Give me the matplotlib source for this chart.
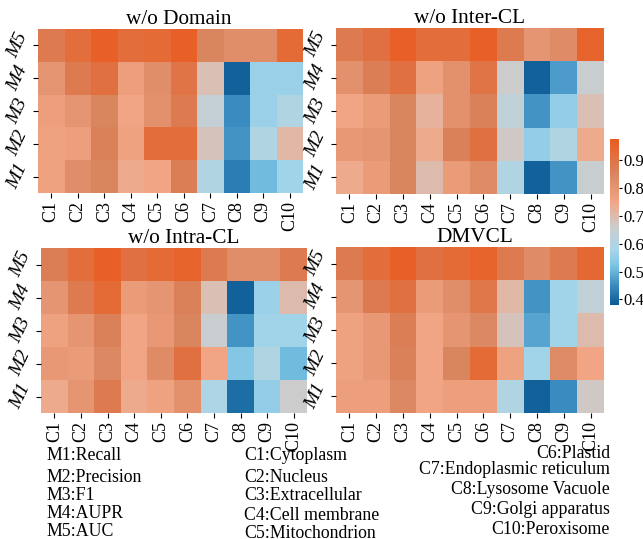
import numpy as np
import matplotlib
matplotlib.use("Agg")
import matplotlib.pyplot as plt
import seaborn as sns
from matplotlib.colors import LinearSegmentedColormap

plt.rcParams['font.family'] = ['Liberation Serif', 'DejaVu Serif']

metrics = ['M5', 'M4', 'M3', 'M2', 'M1']
classes = ['C1', 'C2', 'C3', 'C4', 'C5', 'C6', 'C7', 'C8', 'C9', 'C10']
titles = ['w/o Domain', 'w/o Inter-CL', 'w/o Intra-CL', 'DMVCL']

# rows: M5 (top) ... M1 (bottom)
wo_domain = [
    [0.88, 0.92, 0.96, 0.92, 0.93, 0.96, 0.85, 0.82, 0.82, 0.93],
    [0.80, 0.88, 0.91, 0.77, 0.82, 0.90, 0.69, 0.39, 0.56, 0.56],
    [0.77, 0.80, 0.85, 0.75, 0.81, 0.88, 0.64, 0.45, 0.56, 0.60],
    [0.76, 0.77, 0.86, 0.76, 0.92, 0.92, 0.68, 0.46, 0.60, 0.71],
    [0.76, 0.82, 0.85, 0.74, 0.75, 0.87, 0.60, 0.43, 0.51, 0.57],
]
wo_inter = [
    [0.88, 0.91, 0.96, 0.92, 0.92, 0.96, 0.88, 0.80, 0.83, 0.95],
    [0.81, 0.87, 0.91, 0.76, 0.81, 0.90, 0.66, 0.39, 0.47, 0.65],
    [0.75, 0.78, 0.85, 0.72, 0.81, 0.86, 0.63, 0.46, 0.55, 0.69],
    [0.79, 0.80, 0.85, 0.74, 0.86, 0.91, 0.67, 0.55, 0.60, 0.74],
    [0.74, 0.78, 0.85, 0.70, 0.78, 0.83, 0.60, 0.39, 0.46, 0.65],
]
wo_intra = [
    [0.87, 0.92, 0.96, 0.91, 0.93, 0.95, 0.88, 0.82, 0.82, 0.88],
    [0.80, 0.88, 0.93, 0.78, 0.80, 0.86, 0.69, 0.39, 0.56, 0.70],
    [0.76, 0.80, 0.86, 0.75, 0.79, 0.85, 0.65, 0.46, 0.57, 0.57],
    [0.79, 0.78, 0.84, 0.75, 0.83, 0.91, 0.75, 0.53, 0.60, 0.51],
    [0.74, 0.80, 0.88, 0.74, 0.76, 0.81, 0.59, 0.41, 0.55, 0.66],
]
dmvcl = [
    [0.88, 0.92, 0.96, 0.91, 0.93, 0.95, 0.88, 0.83, 0.88, 0.94],
    [0.80, 0.88, 0.91, 0.78, 0.82, 0.89, 0.71, 0.46, 0.57, 0.63],
    [0.76, 0.79, 0.87, 0.75, 0.80, 0.84, 0.68, 0.48, 0.57, 0.70],
    [0.76, 0.79, 0.86, 0.75, 0.85, 0.93, 0.76, 0.57, 0.83, 0.75],
    [0.77, 0.77, 0.84, 0.75, 0.77, 0.77, 0.60, 0.39, 0.45, 0.67],
]
panels = [wo_domain, wo_inter, wo_intra, dmvcl]

metric_names = ['M1:Recall', 'M2:Precision', 'M3:F1', 'M4:AUPR', 'M5:AUC']
class_names_a = ['C1:Cytoplasm', 'C2:Nucleus', 'C3:Extracellular',
                 'C4:Cell membrane', 'C5:Mitochondrion']
class_names_b = ['C6:Plastid', 'C7:Endoplasmic reticulum', 'C8:Lysosome Vacuole',
                 'C9:Golgi apparatus', 'C10:Peroxisome']

vmin, vmax = 0.38, 0.975
stops = [0.38, 0.45, 0.52, 0.58, 0.66, 0.75, 0.85, 0.975]
cols = ['#0c5a94', '#3a8cc0', '#7cc4e4', '#a9d6ea', '#cccccc', '#f2a584', '#d9855f', '#ea5b20']
cmap = LinearSegmentedColormap.from_list(
    'dmv', [((s - vmin) / (vmax - vmin), c) for s, c in zip(stops, cols)])

W, H = 643, 539
fig = plt.figure(figsize=(W / 100, H / 100), dpi=100)

def px_axes(x0, y0, x1, y1):
    return fig.add_axes([x0 / W, 1 - y1 / H, (x1 - x0) / W, (y1 - y0) / H])

boxes = [(38, 29, 303, 193), (336, 28, 604, 194),
         (41, 248, 307, 413), (336, 247, 604, 413)]
title_x = [179, 470, 184, 475]  # title centres, in pixels

for data, title, box, tx in zip(panels, titles, boxes, title_x):
    ax = px_axes(*box)
    sns.heatmap(np.array(data), ax=ax, cmap=cmap, vmin=vmin, vmax=vmax, cbar=False,
                xticklabels=classes, yticklabels=metrics)
    ax.set_title(title, fontsize=15.3, pad=2, x=(tx - box[0]) / (box[2] - box[0]))
    ax.tick_params(axis='both', length=3.5, width=0.8, labelsize=13, pad=2)
    for lab in ax.get_xticklabels():
        lab.set_rotation(90)
    for lab in ax.get_yticklabels():
        lab.set_rotation(65)
        lab.set_fontstyle('italic')
        lab.set_fontsize(14)

cax = px_axes(610, 139, 619, 305)
sm = plt.cm.ScalarMappable(cmap=cmap, norm=plt.Normalize(vmin, vmax))
cb = fig.colorbar(sm, cax=cax, ticks=[0.4, 0.5, 0.6, 0.7, 0.8, 0.9])
cb.outline.set_linewidth(0)
cb.ax.tick_params(length=2.5, width=0.8, labelsize=12, pad=1)

fs = 12.8
for name, y in zip(metric_names, [456, 477, 495, 513, 532]):
    fig.text(46 / W, 1 - y / H, name, fontsize=fs, va='center', ha='left')
for name, y in zip(class_names_a, [455, 477, 496, 515, 533]):
    fig.text(244 / W, 1 - y / H, name, fontsize=fs, va='center', ha='left')
for name, y in zip(class_names_b, [453, 470, 489, 509, 530]):
    fig.text(610 / W, 1 - y / H, name, fontsize=fs, va='center', ha='right')

fig.savefig('out.png', dpi=100)
